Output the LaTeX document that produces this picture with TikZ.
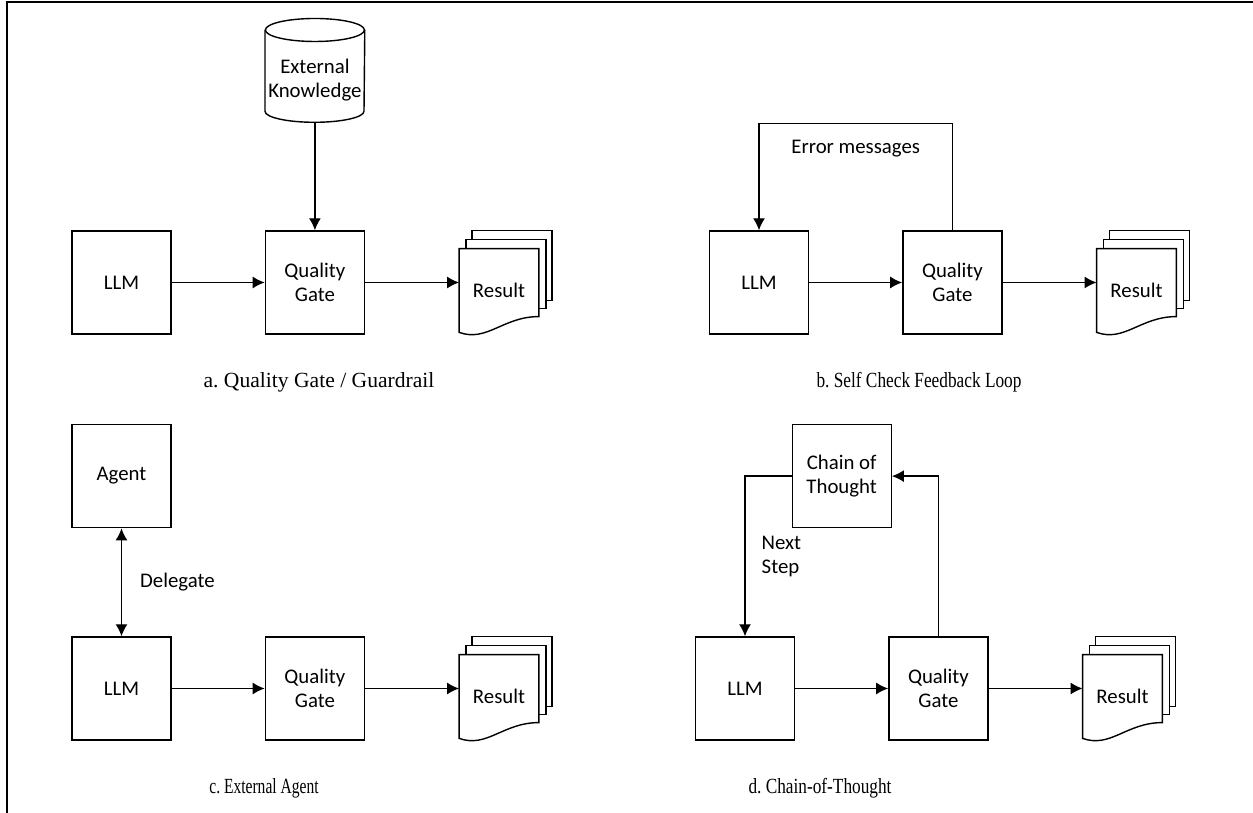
\documentclass[tikz,border=0pt]{standalone}
\usepackage{fontspec}
\setmainfont{Carlito}
\newfontfamily\capfont{Liberation Serif}
\usetikzlibrary{positioning,arrows.meta,backgrounds,calc}
\frenchspacing

% stack of three sheets behind a result node
\newcommand{\docstack}[1]{%
  \begin{scope}[on background layer]
    \draw[sheet] ([shift={(6.5pt,9pt)}]#1.north west) rectangle ([shift={(6.5pt,-26pt)}]#1.north east);
    \draw[sheet] ([shift={(3.5pt,4.5pt)}]#1.north west) rectangle ([shift={(3.5pt,-30pt)}]#1.north east);
    \draw[sheet] (#1.north west) -- (#1.north east) -- ([yshift=-34pt]#1.north east)
      .. controls ([shift={(-18pt,-34pt)}]#1.north east) and ([shift={(14pt,-5pt)}]#1.south west) .. (#1.south west) -- cycle;
  \end{scope}}

\begin{document}
\begin{tikzpicture}[
  x=1pt, y=1pt,
  box/.style={draw, line width=0.7pt, minimum width=49.5pt, minimum height=51.5pt, inner sep=0pt, align=center, font=\fontsize{10.4}{12}\selectfont},
  dbbox/.style={minimum width=49.5pt, minimum height=51.5pt, inner sep=0pt, align=center, font=\fontsize{10.4}{12}\selectfont},
  doc/.style={minimum width=39.5pt, minimum height=41.5pt, inner sep=0pt, font=\fontsize{10.4}{12}\selectfont},
  sheet/.style={draw, line width=0.7pt, fill=white},
  lbl/.style={inner sep=0pt, align=left, font=\fontsize{10.4}{12}\selectfont},
  caption/.style={inner sep=0pt, font=\capfont\fontsize{10.8}{13}\selectfont},
  narrow/.style={xscale=#1, transform shape},
  arr/.style={line width=0.7pt, -{Latex[length=6pt,width=6pt]}},
  >=Latex
]
\useasboundingbox (0,0) rectangle (626.5,406.5);
\draw[line width=1.1pt] (3.5,0) -- (3.5,405.5) -- (626.5,405.5);

% a. Quality Gate / Guardrail
\node[box] (llma) at (60.75,265.25) {LLM};
\node[box, right=46.5pt of llma] (qga) {Quality\\Gate};
\node[dbbox, above=49pt of qga] (kb) {External\\Knowledge};
\node[doc, right=47pt of qga, yshift=-4pt] (resa) {Result};
\docstack{resa}
% cylinder drawn 5pt above the text box
\draw[line width=0.7pt] ([yshift=-0.75pt]kb.north west) -- ([yshift=10.5pt]kb.south west)
  arc[start angle=180, end angle=360, x radius=24.75pt, y radius=5.5pt] -- ([yshift=-0.75pt]kb.north east);
\draw[line width=0.7pt] ([yshift=-0.75pt]kb.north) ellipse [x radius=24.75pt, y radius=5.75pt];
\draw[arr] ([yshift=5pt]kb.south) -- (qga);
\draw[arr] (llma) -- (qga);
\draw[arr] (qga.east) -- (qga.east -| resa.west);
\node[caption] (capa) at (159.5,215.5) {a. Quality Gate / Guardrail};

% b. Self Check Feedback Loop
\node[box] (llmb) at (379.5,265.25) {LLM};
\node[box, right=46.5pt of llmb] (qgb) {Quality\\Gate};
\node[doc, right=47pt of qgb, yshift=-4pt] (resb) {Result};
\docstack{resb}
\draw[arr] (llmb) -- (qgb);
\draw[arr] (qgb.east) -- (qgb.east -| resb.west);
\draw[arr] (qgb.north) -- ++(0,53.5) -| node[lbl, pos=0.25, below=8pt] {Error messages} (llmb.north);
\node[caption, narrow=0.8] (capb) at (459.5,215.5) {b. Self Check Feedback Loop};

% c. External Agent
\node[box] (llmc) at (60.75,62.25) {LLM};
\node[box, above=54pt of llmc] (agent) {Agent};
\node[box, right=46.5pt of llmc] (qgc) {Quality\\Gate};
\node[doc, right=47pt of qgc, yshift=-4pt] (resc) {Result};
\docstack{resc}
\draw[line width=0.7pt, {Latex[length=6pt,width=6pt]}-{Latex[length=6pt,width=6pt]}] (agent) -- node[lbl, right=9pt] {Delegate} (llmc);
\draw[arr] (llmc) -- (qgc);
\draw[arr] (qgc.east) -- (qgc.east -| resc.west);
\node[caption, narrow=0.72] (capc) at (132,12.5) {c. External Agent};

% d. Chain-of-Thought
\node[box] (llmd) at (372.5,62.25) {LLM};
\node[box, right=46.5pt of llmd] (qgd) {Quality\\Gate};
\node[doc, right=47pt of qgd, yshift=-4pt] (resd) {Result};
\docstack{resd}
\coordinate (midd) at ($(llmd.north)!0.5!(qgd.north)$);
\node[box, above=54pt of midd] (cot) {Chain of\\Thought};
\draw[arr] (llmd) -- (qgd);
\draw[arr] (qgd.east) -- (qgd.east -| resd.west);
\draw[arr] (qgd.north) |- (cot.east);
\draw[arr] (cot.west) -| node[lbl, pos=0.75, right=8pt] {Next\\Step} (llmd.north);
\node[caption, narrow=0.8] (capd) at (410,12.5) {d. Chain-of-Thought};
\end{tikzpicture}
\end{document}
